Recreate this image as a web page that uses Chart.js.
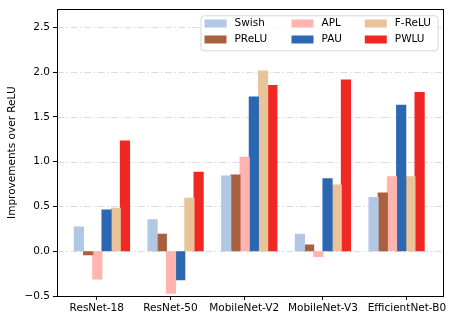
<!DOCTYPE html>
<html lang="en">
<head>
  <meta charset="UTF-8">
  <title>Improvements over ReLU</title>
  <script src="https://cdn.jsdelivr.net/npm/chart.js"></script>
  <style>
    body {
      margin: 0;
      padding: 0;
      background: #fff;
    }
    .wrap {
      width: 457px;
      height: 322px;
    }
  </style>
</head>
<body>
  <div class="wrap">
    <canvas id="chart" width="457" height="322"></canvas>
  </div>

  <script>
    // Data
    const categories = ['ResNet-18', 'ResNet-50', 'MobileNet-V2', 'MobileNet-V3', 'EfficientNet-B0'];
    const swish  = [0.27, 0.35, 0.84, 0.19, 0.60];
    const prelu  = [-0.04, 0.19, 0.85, 0.07, 0.65];
    const apl    = [-0.31, -0.47, 1.05, -0.06, 0.83];
    const pau    = [0.46, -0.32, 1.72, 0.81, 1.63];
    const frelu  = [0.48, 0.59, 2.01, 0.74, 0.83];
    const pwlu   = [1.23, 0.88, 1.85, 1.91, 1.77];
    const yTicks = [-0.5, 0, 0.5, 1.0, 1.5, 2.0, 2.5];

    // where the x tick marks sit (in category units; the original is not centred)
    const xTickPos = [-0.07, 0.93, 1.93, 3.0, 4.14];

    const font = { family: '"DejaVu Sans", sans-serif', size: 10.5 };

    function series(label, values, color) {
      return {
        label: label,
        data: values.map((v, i) => ({ x: i, y: v })),
        backgroundColor: color,
        borderWidth: 0,
        inflateAmount: 0.5
      };
    }

    // dash-dot grid lines behind the bars
    const gridPlugin = {
      id: 'dashGrid',
      beforeDatasetsDraw(chart) {
        const { ctx, chartArea, scales } = chart;
        ctx.save();
        ctx.strokeStyle = '#dcdcdc';
        ctx.lineWidth = 1;
        ctx.setLineDash([7, 2.5, 1.5, 2.5]);
        yTicks.forEach(v => {
          const y = Math.round(scales.y.getPixelForValue(v)) + 0.5;
          ctx.beginPath();
          ctx.moveTo(chartArea.left, y);
          ctx.lineTo(chartArea.right, y);
          ctx.stroke();
        });
        ctx.restore();
      }
    };

    // frame + legend box drawn like matplotlib
    const framePlugin = {
      id: 'frameLegend',
      afterDraw(chart) {
        const { ctx, chartArea } = chart;
        ctx.save();
        ctx.strokeStyle = '#000';
        ctx.lineWidth = 1;
        ctx.strokeRect(Math.round(chartArea.left) + 0.5, Math.round(chartArea.top) + 0.5,
          Math.round(chartArea.right - chartArea.left), Math.round(chartArea.bottom - chartArea.top));

        // legend
        const bx = chartArea.left + 143.5, by = chartArea.top + 6;
        const bw = 237, bh = 35;
        ctx.beginPath();
        ctx.roundRect(bx + 0.5, by + 0.5, bw, bh, 3);
        ctx.fillStyle = 'rgba(255,255,255,0.8)';
        ctx.fill();
        ctx.strokeStyle = '#d6d6d6';
        ctx.stroke();

        const colX = [bx + 4, bx + 91, bx + 164.3];
        const rowY = [by + 8.2, by + 24.2];
        ctx.font = '10.5px "DejaVu Sans", sans-serif';
        ctx.textBaseline = 'middle';
        ctx.textAlign = 'left';
        chart.data.datasets.forEach((ds, i) => {
          const cx = colX[Math.floor(i / 2)];
          const cy = rowY[i % 2];
          ctx.fillStyle = ds.backgroundColor;
          ctx.fillRect(cx, cy - 4, 22, 8);
          ctx.fillStyle = '#000';
          ctx.fillText(ds.label, cx + 30, cy);
        });
        ctx.restore();
      }
    };

    const ctx = document.getElementById('chart').getContext('2d');
    new Chart(ctx, {
      type: 'bar',
      data: {
        datasets: [
          series('Swish', swish, '#b1c7e3'),
          series('PReLU', prelu, '#a9613d'),
          series('APL', apl, '#ffb4b0'),
          series('PAU', pau, '#2c67b1'),
          series('F-ReLU', frelu, '#e9c49b'),
          series('PWLU', pwlu, '#f02722')
        ]
      },
      options: {
        responsive: false,
        animation: false,
        layout: { padding: { left: 0, right: 14, top: 7, bottom: 0 } },
        datasets: {
          bar: { categoryPercentage: 0.75, barPercentage: 1.0, grouped: true }
        },
        plugins: {
          legend: { display: false },
          tooltip: { enabled: false }
        },
        scales: {
          x: {
            type: 'linear',
            min: -0.61,
            max: 4.63,
            offset: false,
            grid: { display: true, drawOnChartArea: false, drawTicks: true, tickLength: 4, tickColor: '#000', offset: false },
            border: { display: false },
            afterBuildTicks(scale) {
              scale.ticks = xTickPos.map(v => ({ value: v }));
            },
            afterFit(scale) { scale.height = 26; },
            ticks: {
              autoSkip: false,
              maxRotation: 0,
              padding: 2,
              color: '#000',
              font: font,
              callback: (val, i) => categories[i]
            }
          },
          y: {
            min: -0.5,
            max: 2.7,
            grid: { display: true, drawOnChartArea: false, drawTicks: true, tickLength: 4, tickColor: '#000' },
            border: { display: false },
            afterBuildTicks(scale) {
              scale.ticks = yTicks.map(v => ({ value: v }));
            },
            afterFit(scale) { scale.width = 57; },
            title: {
              display: true,
              text: 'Improvements over ReLU',
              color: '#000',
              font: font,
              padding: { top: 6, bottom: 0 }
            },
            ticks: {
              padding: 3,
              color: '#000',
              font: font,
              callback: v => v.toFixed(1).replace('-', '\u2212')
            }
          }
        }
      },
      plugins: [gridPlugin, framePlugin]
    });
  </script>
</body>
</html>
